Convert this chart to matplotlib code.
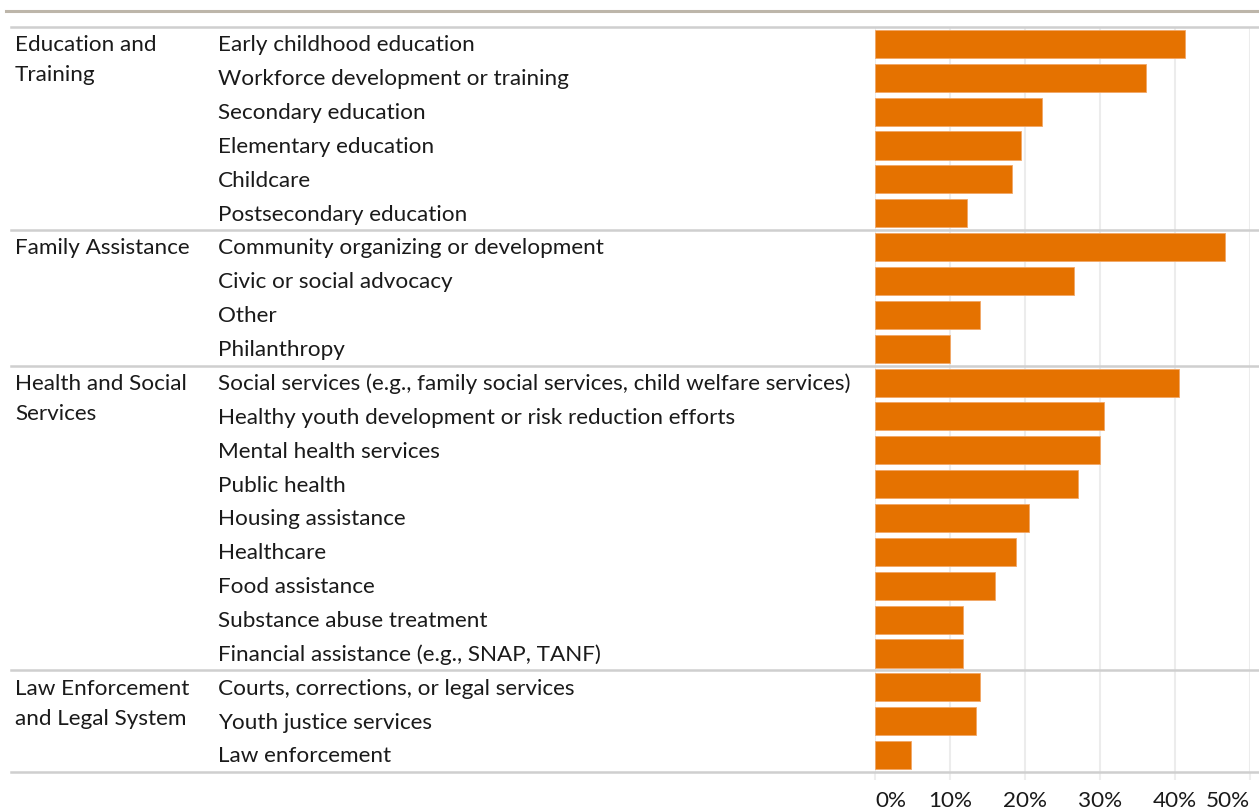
import matplotlib.pyplot as plt
from matplotlib.transforms import blended_transform_factory

plt.rcParams['font.family'] = ['Lato', 'DejaVu Sans']

# sectors, grouped
groups = ["Education and\nTraining", "Family Assistance",
          "Health and Social\nServices", "Law Enforcement\nand Legal System"]
group_sizes = [6, 4, 9, 3]

sectors = [
    "Early childhood education",
    "Workforce development or training",
    "Secondary education",
    "Elementary education",
    "Childcare",
    "Postsecondary education",
    "Community organizing or development",
    "Civic or social advocacy",
    "Other",
    "Philanthropy",
    "Social services (e.g., family social services, child welfare services)",
    "Healthy youth development or risk reduction efforts",
    "Mental health services",
    "Public health",
    "Housing assistance",
    "Healthcare",
    "Food assistance",
    "Substance abuse treatment",
    "Financial assistance (e.g., SNAP, TANF)",
    "Courts, corrections, or legal services",
    "Youth justice services",
    "Law enforcement",
]
shares = [41.3, 36.1, 22.2, 19.5, 18.2, 12.2,
          46.6, 26.5, 14.0, 10.0,
          40.5, 30.5, 30.0, 27.0, 20.5, 18.8, 16.0, 11.7, 11.7,
          14.0, 13.5, 4.8]
xticks = [0, 10, 20, 30, 40, 50]

BAR = "#e57200"
TXT = "#1a1a1a"
FS = 16.2

fig = plt.figure(figsize=(12.59, 8.09), dpi=100)
ax = fig.add_axes([875 / 1259, 37 / 809, 375 / 1259, 745 / 809])

rows = list(range(len(sectors)))
ax.barh(rows, shares, height=0.83, color=BAR, edgecolor="#f2a766",
        linewidth=0.6, zorder=3)
ax.set_ylim(len(sectors) - 0.5, -0.5)
ax.set_xlim(0, 50)

ax.set_xticks(xticks)
ax.set_xticklabels([f"{t}%" for t in xticks], fontsize=FS, color=TXT)
labels = ax.get_xticklabels()
labels[0].set_ha("left")
labels[-1].set_ha("right")
ax.tick_params(axis="x", length=6, color="#eeeeee", width=1.5, pad=7.5)
ax.tick_params(axis="y", left=False, labelleft=False)
ax.grid(axis="x", color="#ececec", linewidth=1.5, zorder=0)
for s in ax.spines.values():
    s.set_visible(False)

tr = blended_transform_factory(fig.transFigure, ax.transData)

# sector labels
for i, name in enumerate(sectors):
    ax.text(218 / 1259, i + 0.04, name, transform=tr, ha="left", va="center",
            fontsize=FS, color=TXT)

# group labels and separators
start = 0
for name, n in zip(groups, group_sizes):
    for k, line in enumerate(name.split("\n")):
        ax.text(15 / 1259, start + 0.04 + k * 0.89, line, transform=tr,
                ha="left", va="center", fontsize=FS, color=TXT)
    ax.plot([11 / 1259, 1], [start - 0.5, start - 0.5], transform=tr,
            color="#cfcfcf", lw=1.8, clip_on=False, zorder=4)
    start += n
ax.plot([11 / 1259, 1], [start - 0.5, start - 0.5], transform=tr,
        color="#cfcfcf", lw=1.8, clip_on=False, zorder=4)

# rule under the heading
fig.add_artist(plt.Line2D([6 / 1259, 1], [1 - 11 / 809, 1 - 11 / 809],
                          color="#bdb6aa", lw=2.2))

fig.savefig("out.png", dpi=100)
